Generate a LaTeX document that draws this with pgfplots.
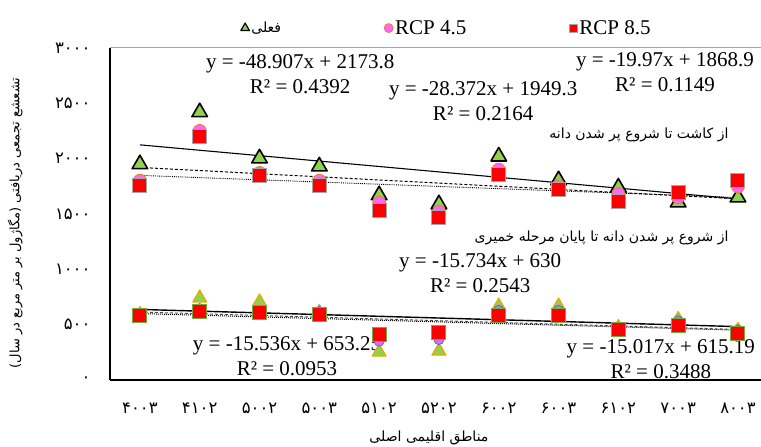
\documentclass[border=0pt]{standalone}
\usepackage{fontspec}
\setmainfont{Liberation Serif}
\newfontfamily\fa[Script=Arabic]{DejaVu Sans}
\TeXXeTstate=1
\usepackage{pgfplots}
\pgfplotsset{compat=1.18}
\definecolor{xlgreen}{RGB}{146,208,80}
\definecolor{xpink}{RGB}{255,102,255}
\definecolor{xorange}{RGB}{237,125,49}
\definecolor{xgray}{RGB}{165,165,165}
\definecolor{xgold}{RGB}{230,170,0}
\definecolor{xblue}{RGB}{68,114,196}
\definecolor{xviolet}{RGB}{220,110,240}
\definecolor{xgreen}{RGB}{112,173,71}
\newcommand{\fsz}{\fontsize{21}{25}\selectfont}
\newcommand{\fas}{\fa\fontsize{14}{16}\selectfont}
\begin{document}
\begin{tikzpicture}
\begin{axis}[name=ax, scale only axis, width=651pt, height=332pt,
  xmin=0.5, xmax=11.385, ymin=0, ymax=3000,
  axis x line*=bottom, axis y line*=left,
  axis line style={-, black, line width=1.2pt},
  major tick length=0pt,
  xtick={1,2,3,4,5,6,7,8,9,10,11},
  xticklabels={{\hbox{\fa ۴۰۰۳}},{\hbox{\fa ۴۱۰۲}},{\hbox{\fa ۵۰۰۲}},{\hbox{\fa ۵۰۰۳}},{\hbox{\fa ۵۱۰۲}},{\hbox{\fa ۵۲۰۲}},{\hbox{\fa ۶۰۰۲}},{\hbox{\fa ۶۰۰۳}},{\hbox{\fa ۶۱۰۲}},{\hbox{\fa ۷۰۰۳}},{\hbox{\fa ۸۰۰۳}}},
  ytick={0,500,1000,1500,2000,2500,3000},
  yticklabels={{\hbox{\fa ۰}},{\hbox{\fa ۵۰۰}},{\hbox{\fa ۱۰۰۰}},{\hbox{\fa ۱۵۰۰}},{\hbox{\fa ۲۰۰۰}},{\hbox{\fa ۲۵۰۰}},{\hbox{\fa ۳۰۰۰}}},
  tick label style={font=\fontsize{16.5}{18}\selectfont},
  xticklabel style={yshift=-19pt},
  yticklabel style={xshift=-16pt},
  xlabel={\fas\beginR مناطق اقلیمی اصلی\endR},
  xlabel style={at={(rel axis cs:0.49,0)}, anchor=center, yshift=-58pt},
  ylabel={\fa\fontsize{13}{15}\selectfont\beginR تشعشع تجمعی دریافتی (مگاژول بر متر مربع در سال)\endR},
  ylabel style={at={(rel axis cs:-0.1459,0.473)}, anchor=center},
  legend style={draw=none, fill=none, legend columns=3, at={(rel axis cs:0.196,1.06)}, anchor=west, font=\fsz,
    /tikz/every even column/.append style={column sep=101pt}},
  legend image code/.code={\draw[mark repeat=2,mark phase=2,#1] plot coordinates {(0cm,0cm)(0.2cm,0cm)(0.4cm,0cm)};},
  clip=false,
]
\draw[xgray, line width=1pt] (rel axis cs:0,1) -- (rel axis cs:1,1);
% upper group: from sowing to start of grain filling
\addplot[only marks, mark=triangle*, mark size=9pt, mark options={fill=xlgreen, draw=black, line width=1.6pt, line join=round}, forget plot] coordinates {
(1,1950) (2,2420) (3,2003) (4,1930) (5,1670) (6,1588) (7,2020) (8,1805) (9,1740) (10,1605) (11,1650)};
\addplot[only marks, mark=*, mark size=6.5pt, mark options={fill=xpink, draw=xorange, line width=0.9pt}, forget plot] coordinates {
(1,1800) (2,2250) (3,1870) (4,1800) (5,1600) (6,1520) (7,1900) (8,1750) (9,1680) (10,1653) (11,1750)};
\addplot[only marks, mark=square*, mark size=7pt, mark options={fill=red, draw=xgray, line width=1pt}, forget plot] coordinates {
(1,1760) (2,2200) (3,1850) (4,1760) (5,1535) (6,1472) (7,1860) (8,1721) (9,1612) (10,1690) (11,1807)};
% lower group: from start of grain filling to end of dough stage
\addplot[only marks, mark=triangle*, mark size=8pt, mark options={fill=xlgreen, draw=xgold, line width=1.2pt, line join=round}, forget plot] coordinates {
(1,592) (2,741) (3,705) (4,610) (5,252) (6,262) (7,668) (8,668) (9,474) (10,547) (11,447)};
\addplot[only marks, mark=*, mark size=5pt, mark options={fill=xviolet, draw=xblue, line width=0.8pt}, forget plot] coordinates {
(1,595) (2,645) (3,620) (4,620) (5,350) (6,365) (7,630) (8,630) (9,470) (10,535) (11,452)};
\addplot[only marks, mark=square*, mark size=7pt, mark options={fill=red, draw=xgreen, line width=1pt}, forget plot] coordinates {
(1,583) (2,623) (3,614) (4,592) (5,411) (6,425) (7,583) (8,583) (9,452) (10,492) (11,420)};
% trendlines (from the printed equations)
\addplot[black, line width=1.1pt, forget plot] coordinates {(1,2124.893) (11,1635.823)};
\addplot[black, line width=1pt, densely dashed, forget plot] coordinates {(1,1920.928) (11,1637.208)};
\addplot[black, line width=0.9pt, densely dotted, forget plot] coordinates {(1,1848.93) (11,1649.23)};
\addplot[black, line width=1.4pt, forget plot] coordinates {(1,637.714) (11,482.354)};
\addplot[black!70, line width=1pt, densely dashed, forget plot] coordinates {(1,614.266) (11,456.926)};
\addplot[black, line width=1pt, densely dotted, forget plot] coordinates {(1,600.173) (11,450.003)};
% legend
\addlegendimage{only marks, mark=triangle*, mark size=5pt, mark options={fill=xlgreen, draw=black, line width=1.2pt, line join=round}}
\addlegendentry{\hbox{\fas فعلی}}
\addlegendimage{only marks, mark=*, mark size=4.5pt, mark options={fill=xpink, draw=xorange, line width=0.8pt}}
\addlegendentry{RCP 4.5}
\addlegendimage{only marks, mark=square*, mark size=4pt, mark options={fill=red, draw=xgray, line width=0.8pt}}
\addlegendentry{RCP 8.5}
% equations
\node[align=center, font=\fsz] at (axis cs:3.68,2760) {y = -48.907x + 2173.8\\R² = 0.4392};
\node[align=center, font=\fsz] at (axis cs:6.74,2516) {y = -28.372x + 1949.3\\R² = 0.2164};
\node[align=center, font=\fsz] at (axis cs:9.78,2778) {y = -19.97x + 1868.9\\R² = 0.1149};
\node[align=center, font=\fsz] at (axis cs:6.69,962) {y = -15.734x + 630\\R² = 0.2543};
\node[align=center, font=\fsz] at (axis cs:3.46,212) {y = -15.536x + 653.25\\R² = 0.0953};
\node[align=center, font=\fsz] at (axis cs:9.71,185) {y = -15.017x + 615.19\\R² = 0.3488};
\node[anchor=east, font=\fas] at (axis cs:10.9,2213) {\beginR از کاشت تا شروع پر شدن دانه\endR};
\node[anchor=east, font=\fas] at (axis cs:10.9,1283) {\beginR از شروع پر شدن دانه تا پایان مرحله خمیری\endR};
\end{axis}
\pgfresetboundingbox
\path[use as bounding box] ([xshift=-110pt,yshift=-67pt]ax.south west) rectangle ([yshift=48pt]ax.north east);
\end{tikzpicture}
\end{document}
